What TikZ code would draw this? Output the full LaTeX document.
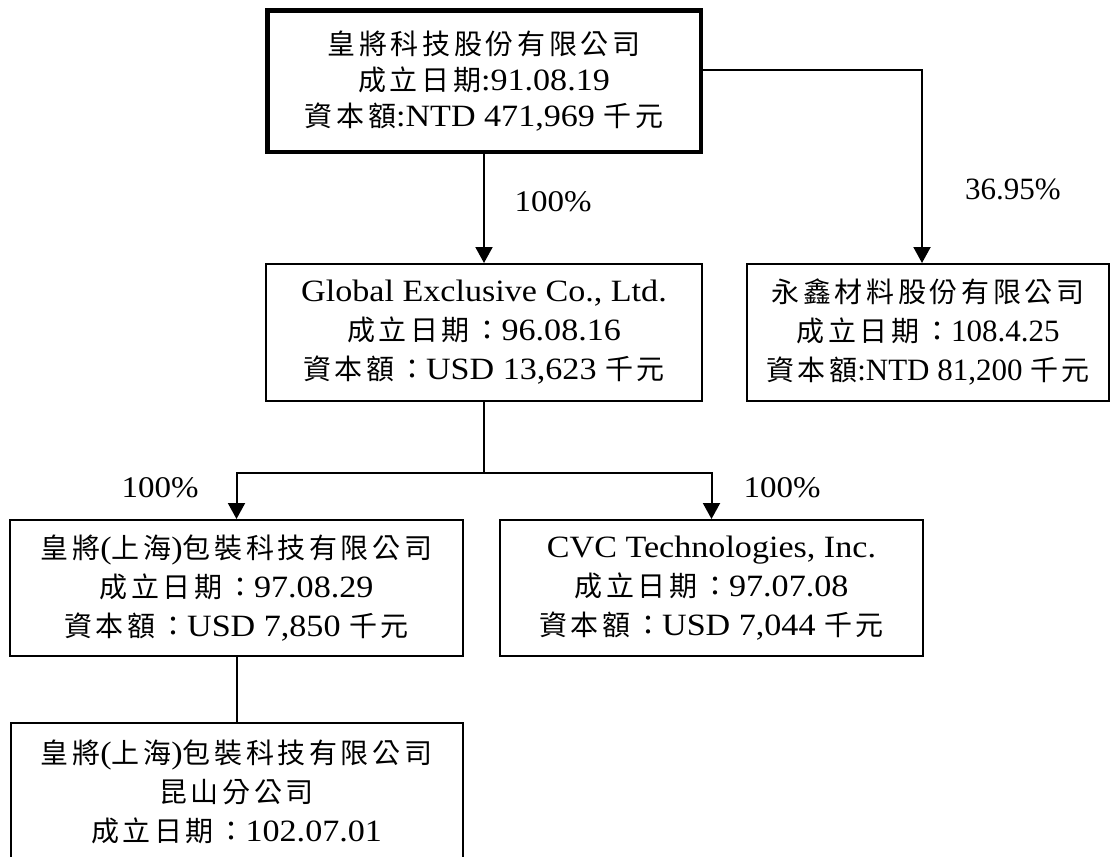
\documentclass[tikz,border=0pt]{standalone}
\usepackage{fontspec}
\setmainfont{Liberation Serif}
\newfontfamily\pal[FakeStretch=1.1]{Liberation Serif}
\newfontfamily\cjk[LetterSpace=13]{Noto Sans CJK TC}
\usetikzlibrary{arrows.meta}
\newcommand\zh[1]{{\cjk\fontsize{28}{39}\selectfont #1}}
\tikzset{
  box/.style={draw, line width=2pt, inner sep=0pt, align=center,
              font=\pal\fontsize{31}{39}\selectfont},
  topbox/.style={box, line width=4.5pt, font=\pal\fontsize{31}{36}\selectfont},
  timesbox/.style={box, font=\rmfamily\fontsize{31}{39}\selectfont},
  link/.style={line width=2pt},
  arr/.style={link, -{Triangle[width=17pt,length=16pt]}},
  pct/.style={inner sep=0pt, font=\pal\fontsize{30}{36}\selectfont}
}
\begin{document}
\begin{tikzpicture}[x=1pt,y=-1pt]
\useasboundingbox (0,0) rectangle (1112,857);
\clip (0,0) rectangle (1112,857);
% boxes
\node[topbox, minimum width=433.5pt, minimum height=141.5pt] (top) at (484,81)
  {\zh{皇將科技股份有限公司}\\\zh{成立日期}:91.08.19\\\zh{資本額}:NTD 471,969 \zh{千元}};
\node[box, minimum width=436pt, minimum height=137pt] (glob) at (484,332.5)
  {Global Exclusive Co., Ltd.\\\zh{成立日期：}96.08.16\\\zh{資本額：}USD 13,623 \zh{千元}};
\node[timesbox, minimum width=362pt, minimum height=137pt] (yx) at (928,332.5)
  {\zh{永鑫材料股份有限公司}\\\zh{成立日期：}108.4.25\\\zh{資本額}:NTD 81,200 \zh{千元}};
\node[box, minimum width=453pt, minimum height=136pt] (sh) at (236.5,588)
  {\zh{皇將}(\zh{上海})\zh{包裝科技有限公司}\\\zh{成立日期：}97.08.29\\\zh{資本額：}USD 7,850 \zh{千元}};
\node[box, minimum width=423pt, minimum height=136pt] (cvc) at (711.5,588)
  {CVC Technologies, Inc.\\\zh{成立日期：}97.07.08\\\zh{資本額：}USD 7,044 \zh{千元}};
\node[box, minimum width=452pt, minimum height=138pt] (ks) at (236.5,792)
  {\zh{皇將}(\zh{上海})\zh{包裝科技有限公司}\\\zh{昆山分公司}\\\zh{成立日期：}102.07.01};
% connectors
\coordinate (rt) at (922,70);
\coordinate (bar) at (484,472.5);
\draw[arr] (top.south) -- (glob.north);
\draw[arr] (top.east |- rt) -- (rt) -- (yx.north -| rt);
\draw[link] (glob.south) -- (bar);
\draw[arr] (bar) -| (sh.north);
\draw[arr] (bar) -| (cvc.north);
\draw[link] (sh.south) -- (ks.north);
% labels
\node[pct] (p1) at (553,202) {100\%};
\node[pct, font=\rmfamily\fontsize{31}{36}\selectfont] (p2) at (1013,189) {36.95\%};
\node[pct] (p3) at (160,488) {100\%};
\node[pct] (p4) at (782,488) {100\%};
\end{tikzpicture}
\end{document}
